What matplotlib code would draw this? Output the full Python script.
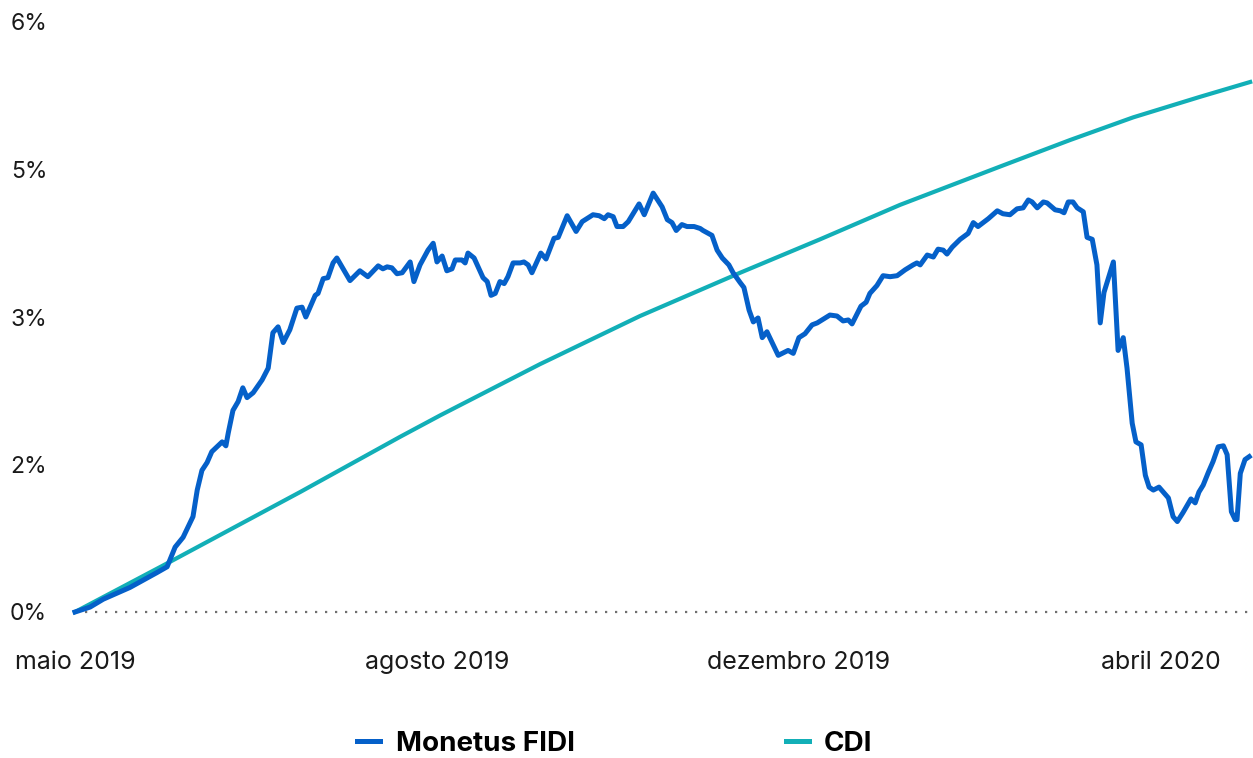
import matplotlib
matplotlib.use("Agg")
import matplotlib.pyplot as plt
from matplotlib.lines import Line2D

# ---- data (business-day index, cumulative return in %) ----
monetus_day = [0, 3.2, 6.0, 11.7, 17.4, 19.6, 21.3, 23.0, 25.1, 26.0, 27.0, 28.1, 29.1, 30.2,
               31.3, 32.1, 32.6, 33.6, 34.7, 35.7, 36.6, 37.9, 39.8, 41.1, 42.1, 43.2, 44.3,
               45.7, 47.2, 48.3, 49.1, 51.1, 51.7, 52.8, 53.8, 54.9, 55.7, 58.5, 60.6, 62.3,
               64.5, 65.5, 66.4, 67.4, 68.5, 69.6, 71.3, 72.1, 73.4, 75.1, 76.2, 77.0, 78.1,
               79.1, 80.2, 80.9, 82.3, 83.0, 83.6, 84.9, 86.8, 87.7, 88.5, 89.4, 90.4, 91.3,
               92.1, 93.2, 94.7, 95.5, 96.4, 97.2, 99.1, 100.2, 101.9, 102.8, 104.7, 106.6,
               107.9, 110.2, 111.5, 112.6, 113.4, 114.5, 115.3, 116.6, 117.7, 120.0, 121.1,
               123.0, 124.9, 126.0, 127.0, 127.9, 129.1, 130.2, 131.7, 133.0, 133.6, 135.5,
               136.6, 137.7, 139.1, 140.0, 141.5, 142.3, 143.4, 144.3, 145.3, 146.2, 147.2,
               149.6, 151.7, 152.8, 154.0, 155.3, 156.8, 157.9, 160.6, 162.1, 163.4, 164.5,
               165.3, 167.2, 168.3, 169.1, 170.6, 171.9, 173.4, 174.9, 176.6, 178.3, 179.1,
               179.8, 181.3, 182.6, 183.6, 184.7, 185.5, 186.6, 188.3, 190.0, 191.1, 192.1,
               194.3, 196.2, 197.4, 198.9, 200.4, 201.7, 202.8, 203.6, 204.7, 206.0, 206.8,
               208.5, 209.6, 210.4, 211.3, 212.3, 213.2, 214.5, 215.3, 216.4, 217.4, 218.1,
               218.9, 220.9, 221.9, 223.0, 223.8, 224.9, 225.7, 226.8, 227.7, 228.5, 229.4,
               230.6, 231.7, 232.6, 233.6, 234.5, 235.7, 237.4, 238.3, 239.1, 240.0, 241.1,
               242.1, 243.2, 244.3, 245.1, 246.0, 246.8, 247.2, 247.9, 248.9, 249.8]
monetus_ret = [0.00, 0.05, 0.13, 0.25, 0.40, 0.46, 0.66, 0.76, 0.97, 1.24, 1.44, 1.52, 1.63, 1.68,
               1.73, 1.69, 1.82, 2.05, 2.14, 2.28, 2.18, 2.23, 2.36, 2.48, 2.84, 2.90, 2.74,
               2.87, 3.09, 3.10, 3.00, 3.22, 3.24, 3.39, 3.40, 3.55, 3.60, 3.37, 3.47, 3.41,
               3.52, 3.49, 3.51, 3.50, 3.44, 3.45, 3.56, 3.36, 3.53, 3.68, 3.75, 3.56, 3.62,
               3.47, 3.49, 3.58, 3.58, 3.55, 3.65, 3.60, 3.40, 3.36, 3.22, 3.24, 3.36, 3.34,
               3.41, 3.55, 3.55, 3.56, 3.53, 3.45, 3.65, 3.59, 3.80, 3.81, 4.03, 3.87,
               3.97, 4.04, 4.03, 4.00, 4.04, 4.02, 3.92, 3.92, 3.97, 4.15, 4.04,
               4.26, 4.12, 3.99, 3.96, 3.88, 3.94, 3.92, 3.92, 3.90, 3.88, 3.83,
               3.68, 3.60, 3.53, 3.45, 3.35, 3.30, 3.07, 2.95, 2.99, 2.79, 2.85,
               2.61, 2.66, 2.63, 2.79, 2.83, 2.92, 2.94, 3.02, 3.01, 2.96, 2.97,
               2.93, 3.11, 3.15, 3.24, 3.32, 3.42, 3.41, 3.42, 3.48, 3.53, 3.55,
               3.53, 3.63, 3.61, 3.69, 3.68, 3.64, 3.71, 3.79, 3.85, 3.96, 3.92,
               4.00, 4.08, 4.05, 4.04, 4.10, 4.11, 4.19, 4.17, 4.11, 4.17, 4.16,
               4.09, 4.08, 4.06, 4.17, 4.17, 4.11, 4.07, 3.81, 3.79, 3.53, 2.94,
               3.25, 3.56, 2.66, 2.79, 2.48, 1.92, 1.73, 1.70, 1.39, 1.27, 1.24,
               1.27, 1.21, 1.16, 0.97, 0.92, 1.01, 1.15, 1.11, 1.22, 1.29, 1.42,
               1.53, 1.68, 1.69, 1.60, 1.02, 0.94, 0.94, 1.41, 1.55, 1.58]

cdi_day = [0, 20.2, 47.9, 69.1, 77.7, 98.9, 120.2, 141.5, 158.5, 175.5, 196.8, 211.7,
           225.1, 239.4, 250.0]
cdi_ret = [0.00, 0.51, 1.22, 1.78, 2.00, 2.52, 3.01, 3.45, 3.79, 4.14, 4.53, 4.80,
           5.03, 5.24, 5.39]

x_tick_pos = [0, 77, 154, 231]
x_tick_labels = ["maio 2019", "agosto 2019", "dezembro 2019", "abril 2020"]
y_tick_pos = [0, 1.5, 3.0, 4.5, 6.0]
y_tick_labels = ["0%", "2%", "3%", "5%", "6%"]

series_names = ["Monetus FIDI", "CDI"]
series_colors = ["#0560C9", "#12AFB7"]

# ---- figure ----
plt.rcParams['font.family'] = ['Inter', 'DejaVu Sans']
W, H = 1253, 758
fig = plt.figure(figsize=(W / 100, H / 100), dpi=100)
ax = fig.add_axes([75 / W, 1 - 612 / H, 1178 / W, 590 / H])

ax.axhline(0, color="#6f6f6f", lw=1.6, linestyle=(0, (1, 3.5)), zorder=1, clip_on=False)
ax.plot(cdi_day, cdi_ret, color=series_colors[1], lw=3.0, zorder=2,
        solid_joinstyle="round", clip_on=False)
ax.plot(monetus_day, monetus_ret, color=series_colors[0], lw=3.6, zorder=3,
        solid_joinstyle="round", clip_on=False)

ax.set_xlim(0, 250.6)
ax.set_ylim(0, 6)
for s in ax.spines.values():
    s.set_visible(False)

ax.set_xticks(x_tick_pos)
ax.set_xticklabels(x_tick_labels)
ax.set_yticks(y_tick_pos)
ax.set_yticklabels(y_tick_labels)
ax.tick_params(axis="both", length=0, labelcolor="#1a1a1a")
ax.tick_params(axis="x", pad=28, labelsize=18)
ax.tick_params(axis="y", pad=20, labelsize=16.5)

handles = [Line2D([0], [0], color=c, lw=3.6) for c in series_colors]
leg = fig.legend(handles, series_names, loc="center", bbox_to_anchor=(615 / W, 1 - 744 / H),
                 ncol=2, frameon=False, handlelength=0.83, handletextpad=0.55,
                 columnspacing=7.6, prop={"size": 20, "weight": "bold"})

fig.savefig("out.png", dpi=100)
